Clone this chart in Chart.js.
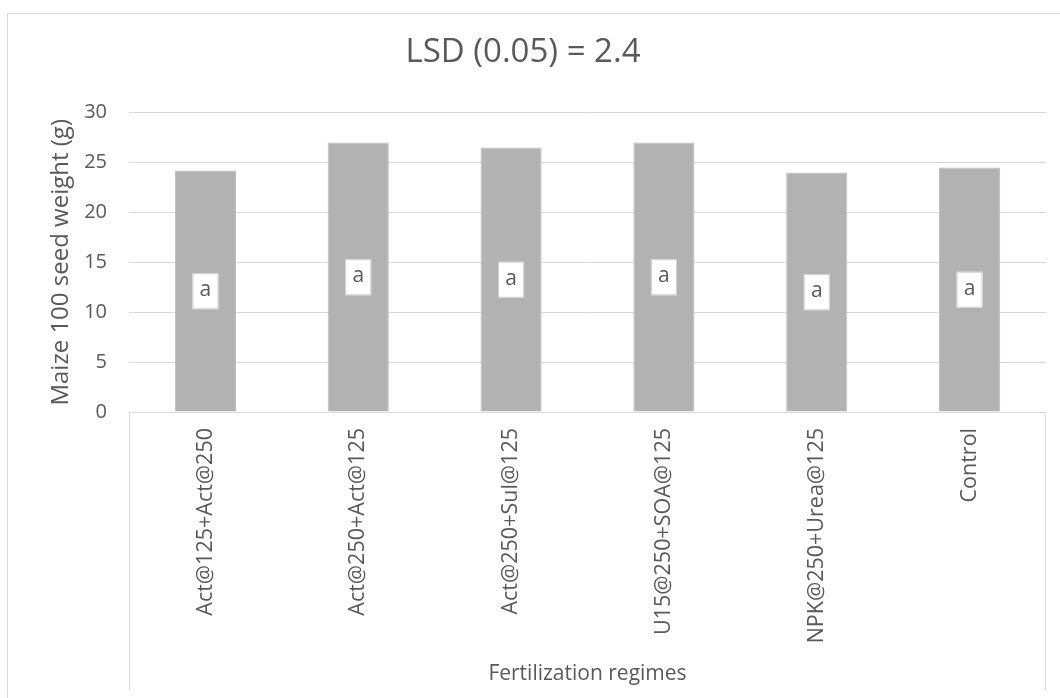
<!DOCTYPE html>
<html>
<head>
<meta charset="utf-8">
<script src="https://cdn.jsdelivr.net/npm/chart.js@4/dist/chart.umd.min.js"></script>
<style>
    html, body { margin: 0; padding: 0; background: #fff; overflow: hidden; }
    #wrap { width: 1060px; height: 698px; position: relative; }
</style>
</head>
<body>
<div id="wrap"><canvas id="seedChart"></canvas></div>
<script>
const regimes = ["Act@125+Act@250", "Act@250+Act@125", "Act@250+Sul@125", "U15@250+SOA@125", "NPK@250+Urea@125", "Control"];
const seedWeight = [24.2, 27.0, 26.5, 27.0, 24.0, 24.5];
const groupLetters = ["a", "a", "a", "a", "a", "a"];
const yTicks = [0, 5, 10, 15, 20, 25, 30];

const textColor = "#595959";
const lineColor = "#d9d9d9";

// outer frame, the two category-axis edge lines and the letter boxes
const decorations = {
    id: "decorations",
    afterDatasetsDraw(chart) {
        const { ctx, chartArea } = chart;
        const yScale = chart.scales.y;
        const meta = chart.getDatasetMeta(0);

        ctx.save();
        ctx.strokeStyle = lineColor;
        ctx.lineWidth = 1;
        ctx.strokeRect(7.5, 13.5, 1200, 900);

        ctx.beginPath();
        ctx.moveTo(chartArea.left + 0.5, chartArea.bottom);
        ctx.lineTo(chartArea.left + 0.5, 690);
        ctx.moveTo(chartArea.right - 0.5, chartArea.bottom);
        ctx.lineTo(chartArea.right - 0.5, 690);
        ctx.stroke();

        ctx.font = "21px 'Open Sans'";
        ctx.textAlign = "center";
        ctx.textBaseline = "middle";
        meta.data.forEach((bar, i) => {
            const cy = yScale.getPixelForValue(seedWeight[i] / 2);
            const w = 26, h = 36;
            ctx.fillStyle = "#ffffff";
            ctx.fillRect(bar.x - w / 2, cy - h / 2, w, h);
            ctx.strokeStyle = "#cfcfcf";
            ctx.strokeRect(bar.x - w / 2 + 0.5, cy - h / 2 + 0.5, w - 1, h - 1);
            ctx.fillStyle = textColor;
            ctx.fillText(groupLetters[i], bar.x, cy - 1);
        });
        ctx.restore();
    }
};

new Chart(document.getElementById("seedChart"), {
    type: "bar",
    data: {
        labels: regimes,
        datasets: [
            {
                label: "Maize 100 seed weight (g)",
                data: seedWeight,
                backgroundColor: "#b2b2b2",
                borderColor: "#bdbdbd",
                borderWidth: 1,
                barPercentage: 0.4,
                categoryPercentage: 1.0
            }
        ]
    },
    options: {
        responsive: true,
        maintainAspectRatio: false,
        animation: false,
        layout: { padding: { left: 0, right: 14, top: 0, bottom: 0 } },
        plugins: {
            legend: { display: false },
            tooltip: { enabled: false },
            title: {
                display: true,
                text: "LSD (0.05) = 2.4",
                color: textColor,
                font: { family: "'Open Sans'", size: 33, weight: "normal" },
                padding: { top: 33, bottom: 40 }
            }
        },
        scales: {
            x: {
                grid: { display: false, drawTicks: false },
                border: { display: false },
                ticks: {
                    color: textColor,
                    font: { family: "'Open Sans'", size: 21.5 },
                    minRotation: 90,
                    maxRotation: 90,
                    padding: 16,
                    autoSkip: false
                },
                title: {
                    display: true,
                    text: "Fertilization regimes",
                    color: textColor,
                    font: { family: "'Open Sans'", size: 21 },
                    padding: { top: 0, bottom: 11 }
                },
                afterFit: (scale) => { scale.height = 286; }
            },
            y: {
                min: 0,
                max: 30,
                afterBuildTicks: (scale) => { scale.ticks = yTicks.map(v => ({ value: v })); },
                grid: { color: lineColor, drawTicks: false },
                border: { display: false },
                ticks: {
                    color: textColor,
                    font: { family: "'Open Sans'", size: 20 },
                    padding: 22
                },
                title: {
                    display: true,
                    text: "Maize 100 seed weight (g)",
                    color: textColor,
                    font: { family: "'Open Sans'", size: 24 },
                    padding: { top: 47, bottom: 0 }
                },
                afterFit: (scale) => { scale.width = 129; }
            }
        }
    },
    plugins: [decorations]
});
</script>
</body>
</html>
